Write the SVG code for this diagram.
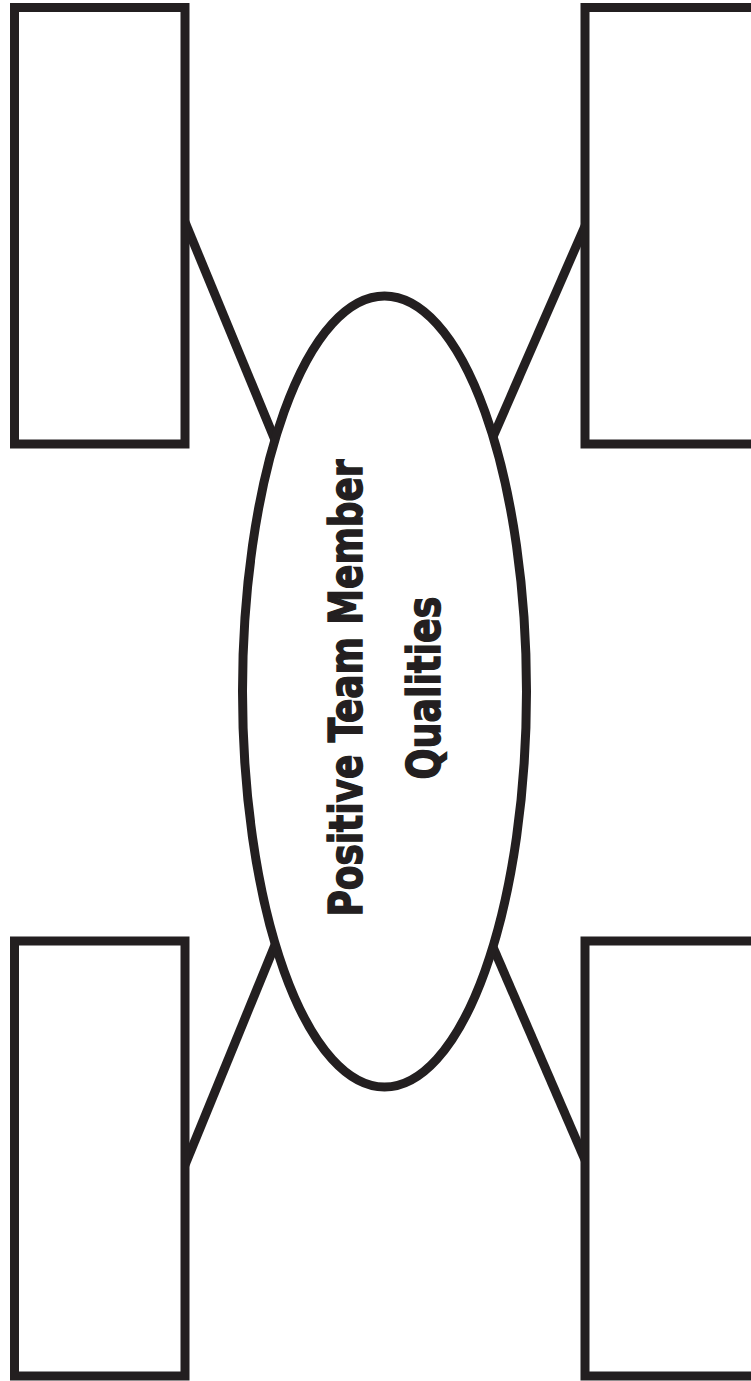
<svg xmlns="http://www.w3.org/2000/svg" width="751" height="1381" viewBox="0 0 751 1381">
<style>
.box{fill:#fff;stroke:#231f20;stroke-width:9}
.conn{stroke:#231f20;stroke-width:9;fill:none}
.lbl{font-family:"Liberation Sans Narrow","DejaVu Sans Condensed","Liberation Sans",sans-serif;font-stretch:condensed;font-weight:bold;font-size:47px;fill:#231f20;stroke:#231f20;stroke-width:1.4;text-anchor:middle}
</style>
<rect width="751" height="1381" fill="#fff"/>
<g id="connectors">
<line class="conn" x1="185" y1="222" x2="275" y2="440"/>
<line class="conn" x1="585" y1="226" x2="493" y2="437"/>
<line class="conn" x1="275" y1="945" x2="185" y2="1165"/>
<line class="conn" x1="493" y1="947" x2="585" y2="1160"/>
</g>
<g id="box-top-left"><rect class="box" x="14.5" y="7.5" width="170.5" height="436.5"/></g>
<g id="box-top-right"><rect class="box" x="585" y="7.5" width="172" height="436.5"/></g>
<g id="box-bottom-left"><rect class="box" x="14.5" y="941" width="170.5" height="435"/></g>
<g id="box-bottom-right"><rect class="box" x="585" y="941" width="172" height="435"/></g>
<g id="center">
<ellipse cx="384.5" cy="691.5" rx="142" ry="395.5" fill="#fff" stroke="#231f20" stroke-width="9"/>
<text class="lbl" transform="translate(362,688) rotate(-90)" x="0" y="0" textLength="457" lengthAdjust="spacingAndGlyphs">Positive Team Member</text>
<text class="lbl" transform="translate(440,688) rotate(-90)" x="0" y="0" textLength="183" lengthAdjust="spacingAndGlyphs">Qualities</text>
</g>
</svg>
